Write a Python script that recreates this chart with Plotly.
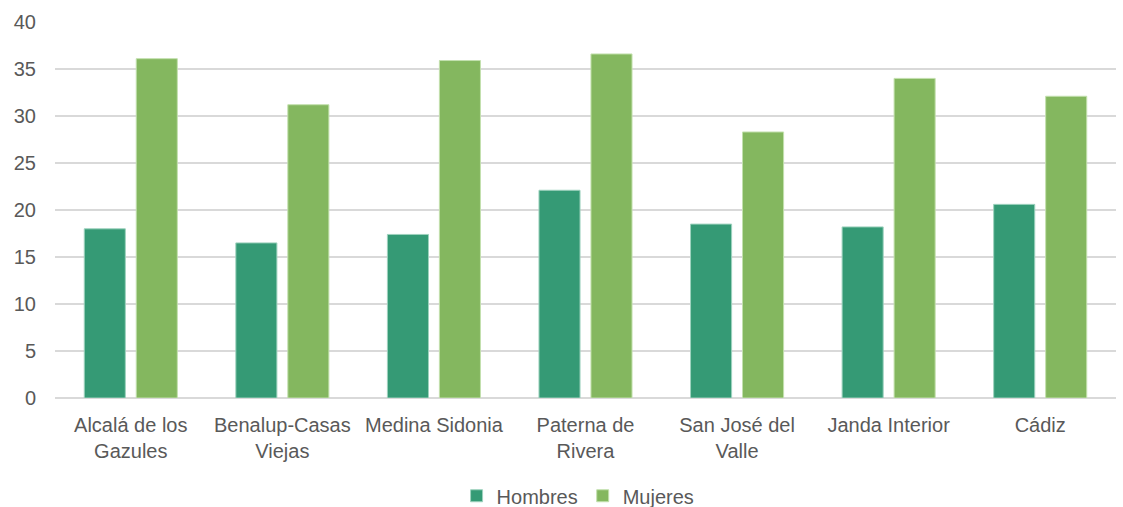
import plotly.graph_objects as go

categories = ["Alcalá de los<br>Gazules", "Benalup-Casas<br>Viejas", "Medina Sidonia",
              "Paterna de<br>Rivera", "San José del<br>Valle", "Janda Interior", "Cádiz"]
hombres = [18.0, 16.5, 17.4, 22.1, 18.5, 18.2, 20.6]
mujeres = [36.1, 31.2, 35.9, 36.6, 28.3, 34.0, 32.1]
y_ticks = [0, 5, 10, 15, 20, 25, 30, 35, 40]

fig = go.Figure()
fig.add_trace(go.Bar(name="Hombres", x=categories, y=hombres,
                     marker=dict(color="#359A75", line=dict(color="#9ED2BE", width=1))))
fig.add_trace(go.Bar(name="Mujeres", x=categories, y=mujeres,
                     marker=dict(color="#84B75F", line=dict(color="#C3E0AE", width=1))))

fig.update_layout(
    width=1123, height=507,
    margin=dict(l=55, r=7, t=22, b=109, autoexpand=False),
    paper_bgcolor="white", plot_bgcolor="white",
    barmode="group", bargap=0.314, bargroupgap=0.21,
    font=dict(family="Liberation Sans, Arial, sans-serif", size=20, color="#595959"),
    showlegend=True,
    legend=dict(orientation="h", x=0.493, xanchor="center", y=-0.26, yanchor="middle",
                font=dict(size=20, color="#595959"), itemwidth=30, tracegroupgap=0),
)
fig.update_xaxes(showgrid=False, ticks="", showline=False, tickfont=dict(size=20),
                 ticklabelstandoff=13, automargin=False)
fig.update_yaxes(range=[0, 40], tickvals=y_ticks, showgrid=True, gridcolor="#D9D9D9",
                 gridwidth=1.5, zeroline=True, zerolinecolor="#D9D9D9", zerolinewidth=1.5,
                 showline=False, ticks="", tickfont=dict(size=20), ticklabelstandoff=18,
                 automargin=False)

fig.write_html("out.html", config={"displayModeBar": False},
               post_script="document.body.style.margin='0';document.body.style.overflow='hidden';")
